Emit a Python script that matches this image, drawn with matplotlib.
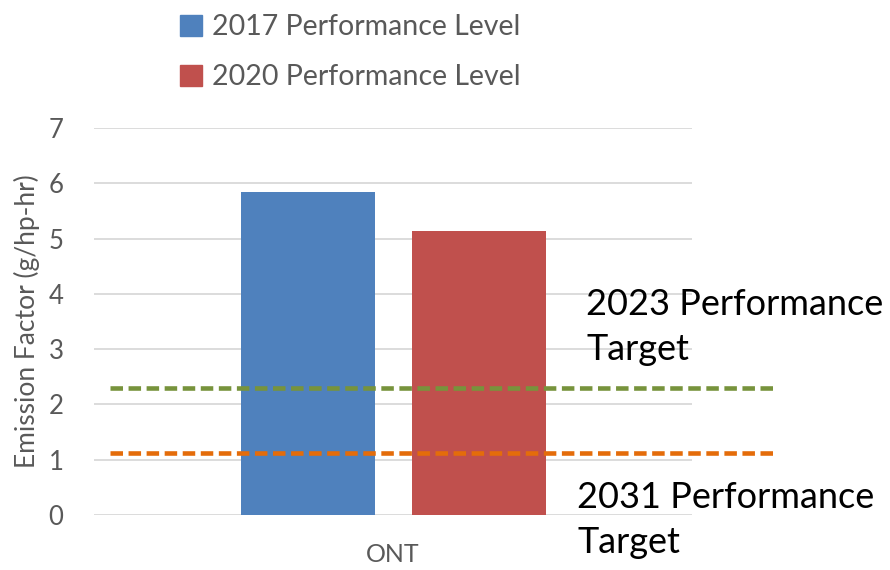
import matplotlib
matplotlib.use("Agg")
import matplotlib.pyplot as plt
from matplotlib.patches import Patch

plt.rcParams['font.family'] = ['Lato', 'DejaVu Sans']
plt.rcParams['lines.scale_dashes'] = False

# data
category = ['ONT']
series = ['2017 Performance Level', '2020 Performance Level']
values = [5.84, 5.14]
colors = ['#4F81BD', '#C0504D']
targets = [2.30, 1.12]
target_labels = ['2023 Performance\nTarget', '2031 Performance\nTarget']
target_colors = ['#77933C', '#E46C0A']

gray = '#595959'
fig = plt.figure(figsize=(8.9, 5.7), dpi=100)
ax = fig.add_axes([0.1056, 0.0965, 0.672, 0.679])

offsets = [-0.142, 0.143]
for v, off, c in zip(values, offsets, colors):
    ax.bar(off, v, width=0.224, color=c, zorder=2)

ax.set_xlim(-0.5, 0.5)
ax.set_ylim(0, 7)
ax.set_yticks(range(0, 8))
ax.set_xticks([0])
ax.set_xticklabels(category)
ax.yaxis.grid(True, color='#d9d9d9', linewidth=1.3, zorder=0)
ax.set_axisbelow(True)
for s in ax.spines.values():
    s.set_visible(False)
ax.tick_params(length=0)
ax.tick_params(axis='y', labelsize=18.5, labelcolor=gray, pad=22)
ax.tick_params(axis='x', labelsize=18, labelcolor=gray, pad=20)
ax.set_ylabel('Emission Factor (g/hp-hr)', fontsize=19, color=gray, labelpad=6)

for t, c in zip(targets, target_colors):
    ax.plot([-0.473, 0.644], [t, t], color=c, linewidth=3.3, dashes=(9, 4),
            clip_on=False, zorder=3)

ax.text(0.323, 4.1, target_labels[0], fontsize=26, color='black',
        va='top', ha='left', linespacing=1.45)
ax.text(0.308, 0.62, target_labels[1], fontsize=26, color='black',
        va='top', ha='left', linespacing=1.45)

handles = [Patch(color=c, label=l) for c, l in zip(colors, series)]
fig.legend(handles=handles, loc='upper left', bbox_to_anchor=(0.174, 1.02),
           frameon=False, fontsize=20.5, labelcolor=gray, handlelength=0.75,
           handleheight=0.75, handletextpad=0.35, labelspacing=0.85)

fig.savefig('out.png', dpi=100)
